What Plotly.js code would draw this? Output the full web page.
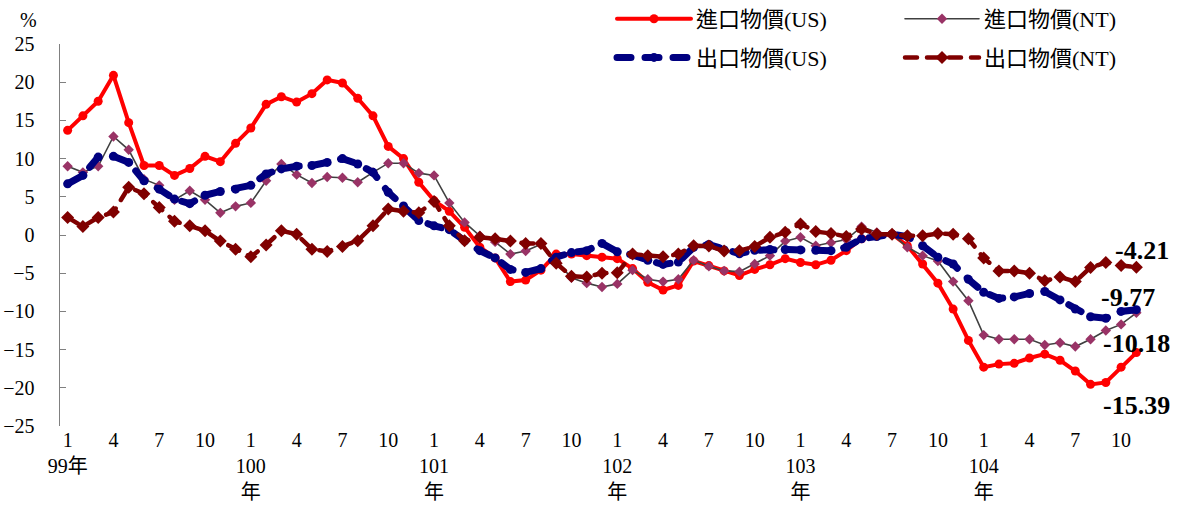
<!DOCTYPE html>
<html>
<head>
<meta charset="utf-8">
<script src="https://cdn.plot.ly/plotly-3.0.1.min.js"></script>
<style>
  html, body { margin: 0; padding: 0; background: #fff; }
  #chart { width: 1179px; height: 507px; }
  .scatterlayer .js-line, .legendlines path { stroke-linecap: round; }
</style>
</head>
<body>
<div id="chart"></div>
<script>
// ---- data (annual % change, 99年1月 – 104年11月) ----
const years = [99, 100, 101, 102, 103, 104];
const monthsPerYear = [12, 12, 12, 12, 12, 11];
const tickMonths = [1, 4, 7, 10];

const importUS = [
  13.7, 15.6, 17.5, 20.9, 14.7, 9.1, 9.1, 7.8, 8.7, 10.3,
  9.6, 12.0, 14.0, 17.1, 18.1, 17.4, 18.5, 20.3, 19.9, 17.9,
  15.6, 11.6, 10.0, 6.9, 4.5, 3.1, 1.0, -1.6, -3.0, -6.1,
  -5.9, -4.6, -2.5, -2.5, -2.7, -2.9, -3.1, -4.4, -6.2, -7.2,
  -6.6, -3.4, -4.0, -4.7, -5.3, -4.5, -3.9, -3.1, -3.6, -3.9,
  -3.3, -2.05, -0.5, -0.1, 0.1, -1.4, -3.8, -6.3, -9.7, -13.8,
  -17.3, -16.9, -16.8, -16.1, -15.6, -16.4, -17.8, -19.55, -19.3, -17.3,
  -15.39
];
const importNT = [
  9.0, 8.2, 9.0, 12.9, 11.15, 7.3, 6.5, 4.6, 5.8, 4.6,
  2.9, 3.75, 4.2, 7.1, 9.3, 7.9, 6.8, 7.6, 7.5, 6.9,
  8.2, 9.4, 9.4, 8.1, 7.8, 4.2, 1.65, -0.1, -0.9, -2.5,
  -2.1, -1.2, -3.4, -5.6, -6.3, -6.8, -6.4, -4.6, -5.8, -6.1,
  -5.8, -3.3, -4.1, -4.7, -4.8, -3.8, -2.7, -0.8, -0.3, -1.4,
  -1.0, -0.6, 1.1, 0.35, 0.1, -1.6, -2.7, -3.4, -6.1, -8.6,
  -13.1, -13.65, -13.65, -13.65, -14.4, -14.1, -14.6, -13.65, -12.5, -11.7,
  -10.18
];
const exportUS = [
  6.7, 7.8, 10.2, 10.3, 9.5, 7.1, 6.0, 4.7, 4.1, 5.2,
  5.7, 6.0, 6.5, 8.0, 8.65, 9.0, 9.1, 9.5, 10.0, 9.3,
  8.2, 5.6, 3.8, 1.9, 1.2, 0.7, -0.75, -2.05, -3.0, -4.5,
  -4.9, -4.4, -2.9, -2.3, -2.05, -1.1, -2.2, -2.6, -3.3, -3.85,
  -3.55, -1.6, -1.25, -1.95, -2.45, -2.0, -1.9, -1.9, -1.95, -2.0,
  -2.05, -1.6, -0.5, -0.2, 0.1, -0.2, -1.4, -2.9, -3.8, -5.8,
  -7.5, -8.3, -8.1, -7.65, -7.4, -8.5, -9.7, -10.7, -10.9, -10.0,
  -9.77
];
const exportNT = [
  2.3, 1.1, 2.3, 3.0, 6.25, 5.4, 3.6, 1.8, 1.2, 0.55,
  -0.8, -1.85, -2.85, -1.3, 0.55, 0.1, -1.85, -2.15, -1.5, -0.75,
  1.2, 3.4, 3.1, 2.9, 4.4, 1.2, -0.75, -0.3, -0.5, -0.8,
  -1.1, -1.1, -3.7, -5.4, -5.5, -5.0, -4.95, -2.5, -2.7, -2.85,
  -2.5, -1.4, -1.45, -2.1, -2.05, -1.5, -0.3, 0.35, 1.45, 0.45,
  0.2, -0.2, 0.8, 0.1, 0.1, -0.1, -0.1, 0.2, 0.1, -0.5,
  -3.0, -4.7, -4.7, -5.0, -6.0, -5.5, -6.1, -4.25, -3.6, -4.0,
  -4.21
];
const seriesNames = ['進口物價(US)', '進口物價(NT)', '出口物價(US)', '出口物價(NT)'];

// ---- categories & tick labels ----
const months = [];
const tickVals = [];
const tickText = [];
years.forEach((y, yi) => {
  for (let m = 1; m <= monthsPerYear[yi]; m++) {
    const key = y + '/' + m;
    months.push(key);
    if (tickMonths.indexOf(m) >= 0) {
      tickVals.push(key);
      if (m === 1) tickText.push(yi === 0 ? '1<br>' + y + '年' : '1<br>' + y + '<br>年');
      else tickText.push(String(m));
    }
  }
});

const serif = "'Times New Roman', 'Liberation Serif', 'Noto Sans CJK TC', serif";

const traces = [
  { name: seriesNames[0], x: months, y: importUS, type: 'scatter', mode: 'lines+markers',
    line: { color: '#FF0000', width: 4 }, marker: { symbol: 'circle', size: 9, color: '#FF0000' },
    legend: 'legend', legendgroup: 'a' },
  { name: seriesNames[1], x: months, y: importNT, type: 'scatter', mode: 'lines+markers',
    line: { color: '#404040', width: 1.6 }, marker: { symbol: 'diamond', size: 8, color: '#993366' },
    legend: 'legend2', legendgroup: 'b' },
  { name: seriesNames[2], x: months, y: exportUS, type: 'scatter', mode: 'lines+markers',
    line: { color: '#000080', width: 7, dash: '14px,14px' }, marker: { symbol: 'circle', size: 9, color: '#000080' },
    legend: 'legend', legendgroup: 'c' },
  { name: seriesNames[3], x: months, y: exportNT, type: 'scatter', mode: 'lines+markers',
    line: { color: '#800000', width: 4.5, dash: '12px,10px' }, marker: { symbol: 'diamond', size: 10, color: '#800000' },
    legend: 'legend2', legendgroup: 'd' }
];

const last = arr => arr[arr.length - 1];
const endLabels = [
  { v: last(exportNT), dx: 6, dy: 17 },
  { v: last(exportUS), dx: -8, dy: 12 },
  { v: last(importNT), dx: 0, dy: -31 },
  { v: last(importUS), dx: 0, dy: -53 }
];

const L = 60, R = 35, T = 44, B = 81, W = 1179, H = 507;
const pw = W - L - R, ph = H - T - B;

const annotations = endLabels.map(e => ({
  x: months[months.length - 1], y: e.v, xref: 'x', yref: 'y',
  text: '<b>' + e.v.toFixed(2) + '</b>', showarrow: false,
  xshift: e.dx, yshift: e.dy, font: { family: serif, size: 26, color: '#000' }
}));
annotations.push({
  x: (28 - L) / pw, y: (H - B - 20) / ph, xref: 'paper', yref: 'paper', text: '%', showarrow: false,
  xanchor: 'center', yanchor: 'middle',
  font: { family: serif, size: 20, color: '#000' }
});

const legendCommon = {
  orientation: 'v', xanchor: 'left', yanchor: 'top', yref: 'paper', xref: 'paper',
  font: { family: serif, size: 22, color: '#000' }, itemwidth: 74,
  bgcolor: 'rgba(0,0,0,0)', traceorder: 'grouped', tracegroupgap: 7
};

const layout = {
  width: W, height: H,
  margin: { l: L, r: R, t: T, b: B, autoexpand: false },
  paper_bgcolor: '#fff', plot_bgcolor: '#fff',
  showlegend: true,
  legend: Object.assign({}, legendCommon, { x: (612 - L) / pw, y: (H - B + 2) / ph }),
  legend2: Object.assign({}, legendCommon, { x: (900 - L) / pw, y: (H - B + 2) / ph }),
  xaxis: {
    type: 'category', categoryarray: months, range: [-0.5, months.length - 0.5],
    tickvals: tickVals, ticktext: tickText, ticks: '', showline: false, showgrid: false,
    zeroline: false, tickfont: { family: serif, size: 20, color: '#000' }
  },
  xaxis2: {
    overlaying: 'x', anchor: 'free', position: 0.5, type: 'linear',
    range: [-0.5, months.length - 0.5], tick0: -0.5, dtick: 1,
    ticks: 'inside', ticklen: 7, tickcolor: '#808080', tickwidth: 1.2,
    showline: true, linecolor: '#808080', linewidth: 1.5,
    showticklabels: false, showgrid: false, zeroline: false, fixedrange: true
  },
  yaxis: {
    range: [-25, 25], dtick: 5, tick0: 0, ticks: 'inside', ticklen: 6,
    tickcolor: '#808080', showline: true, linecolor: '#808080', linewidth: 1.5,
    showgrid: false, zeroline: false, ticklabelstandoff: 20,
    tickfont: { family: serif, size: 20, color: '#000' }
  },
  annotations: annotations
};

Plotly.newPlot('chart', traces, layout, { displayModeBar: false, staticPlot: true });
</script>
</body>
</html>
